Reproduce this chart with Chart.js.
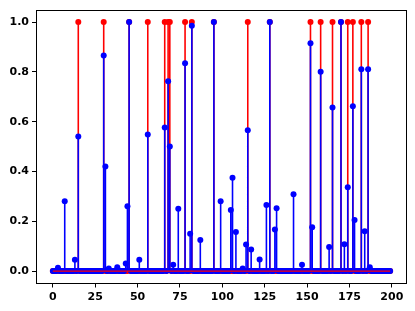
<!DOCTYPE html>
<html>
<head>
<meta charset="utf-8">
<script src="https://cdn.jsdelivr.net/npm/chart.js@4.4.1/dist/chart.umd.min.js"></script>
<style>
html,body{margin:0;padding:0;background:#fff;}
#wrap{width:415px;height:311px;}
</style>
</head>
<body>
<div id="wrap"><canvas id="c" width="415" height="311"></canvas></div>
<script>
// ---- data ----
const N = 200;
const truthOnes = [15, 30, 45, 56, 66, 68, 69, 78, 82, 95, 115, 128, 152, 158, 165, 170, 174, 177, 182, 186];
const predIdx = [3, 7, 13, 15, 30, 31, 33, 38, 43, 44, 45, 51, 56, 66, 68, 69, 71, 74, 78, 81, 82, 87, 95, 99, 105, 106, 108, 112, 114, 115, 117, 122, 126, 128, 131, 132, 142, 147, 152, 153, 158, 163, 165, 170, 172, 174, 177, 178, 182, 184, 186, 187];
const predVal = [0.013, 0.28, 0.045, 0.54, 0.866, 0.42, 0.01, 0.015, 0.03, 0.26, 1.0, 0.045, 0.548, 0.577, 0.762, 0.50, 0.025, 0.25, 0.835, 0.15, 0.985, 0.125, 1.0, 0.28, 0.245, 0.375, 0.157, 0.01, 0.107, 0.565, 0.087, 0.046, 0.265, 1.0, 0.167, 0.252, 0.308, 0.025, 0.915, 0.176, 0.80, 0.097, 0.657, 1.0, 0.108, 0.337, 0.662, 0.205, 0.81, 0.16, 0.81, 0.015];
const xTicks = [0, 25, 50, 75, 100, 125, 150, 175, 200];
const yTicks = [0.0, 0.2, 0.4, 0.6, 0.8, 1.0];

// ---- build series ----
const truth = new Array(N).fill(0);
truthOnes.forEach(i => truth[i] = 1);
const pred = new Array(N).fill(0);
predIdx.forEach((i, k) => pred[i] = predVal[k]);

function stems(arr) {
  const out = [];
  arr.forEach((v, i) => { out.push({x: i, y: 0}, {x: i, y: v}, {x: i, y: null}); });
  return out;
}
function pts(arr) { return arr.map((v, i) => ({x: i, y: v})); }

const RED = '#ff0000', BLUE = '#0000ff';

const framePlugin = {
  id: 'frame',
  afterDatasetsDraw(chart) {
    const a = chart.chartArea, ctx = chart.ctx;
    ctx.save();
    ctx.strokeStyle = '#000';
    ctx.lineWidth = 1;
    ctx.strokeRect(Math.round(a.left) + 0.5, Math.round(a.top) + 0.5,
                   Math.round(a.right - a.left) - 1, Math.round(a.bottom - a.top) - 1);
    ctx.restore();
  }
};

Chart.defaults.font.family = 'DejaVu Sans';
Chart.defaults.font.weight = 'bold';
Chart.defaults.font.size = 11;
Chart.defaults.color = '#000';

new Chart(document.getElementById('c'), {
  type: 'line',
  data: {
    datasets: [
      {data: stems(truth), borderColor: RED, borderWidth: 1.6, pointRadius: 0, spanGaps: false, order: 6},
      {data: pts(truth), showLine: false, pointRadius: 3, pointBorderWidth: 0, pointBackgroundColor: RED, order: 5},
      {data: stems(pred), borderColor: BLUE, borderWidth: 1.6, pointRadius: 0, spanGaps: false, order: 3},
      {data: pts(pred), showLine: false, pointRadius: 3, pointBorderWidth: 0, pointBackgroundColor: BLUE, order: 2},
      {data: [{x: 0, y: 0}, {x: N - 1, y: 0}], borderColor: RED, borderWidth: 1.2, pointRadius: 0, order: 1}
    ]
  },
  options: {
    responsive: false,
    animation: false,
    devicePixelRatio: 1,
    layout: {padding: {top: 6, right: 8, left: 0, bottom: 0}},
    plugins: {legend: {display: false}, tooltip: {enabled: false}},
    scales: {
      x: {
        type: 'linear', min: -9.95, max: 208.95,
        afterBuildTicks: s => { s.ticks = xTicks.map(v => ({value: v})); },
        afterFit: s => { s.height = 27.5; },
        grid: {drawOnChartArea: false, drawTicks: true, tickLength: 4, color: '#000'},
        border: {display: false},
        ticks: {padding: 3, maxRotation: 0, callback: v => String(v)}
      },
      y: {
        type: 'linear', min: -0.05, max: 1.05,
        afterBuildTicks: s => { s.ticks = yTicks.map(v => ({value: v})); },
        afterFit: s => { s.width = 36; },
        grid: {drawOnChartArea: false, drawTicks: true, tickLength: 4, color: '#000'},
        border: {display: false},
        ticks: {padding: 3, callback: v => Number(v).toFixed(1)}
      }
    }
  },
  plugins: [framePlugin]
});
</script>
</body>
</html>
